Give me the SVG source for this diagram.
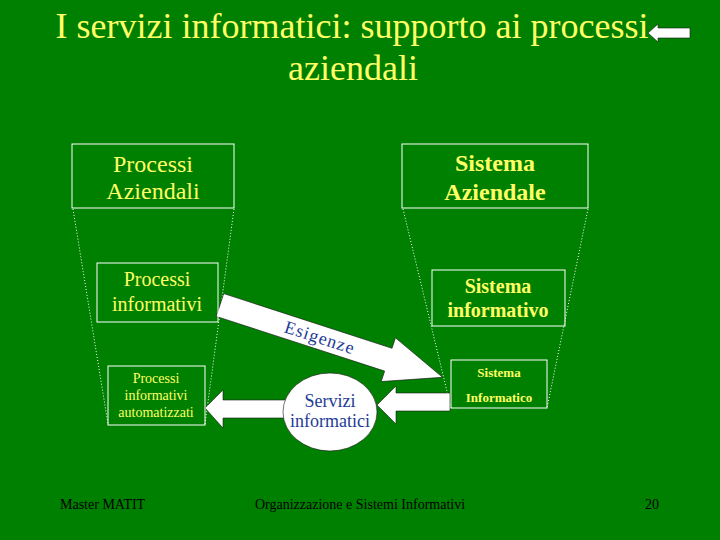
<svg xmlns="http://www.w3.org/2000/svg" width="720" height="540" viewBox="0 0 720 540">
<style>
.bg{fill:#008000}
.title{font-family:"Liberation Serif",serif;font-size:36px;fill:#ffff66;text-anchor:middle}
.box{fill:none;stroke:#ffffff;stroke-width:1}
.t{font-family:"Liberation Serif",serif;fill:#ffff66;text-anchor:middle}
.b{font-weight:bold}
.dot{stroke:#ffffff;stroke-width:1;stroke-dasharray:1 2;fill:none}
.arrow{fill:#ffffff;stroke:#1a1a1a;stroke-width:0.6}
.blue{font-family:"Liberation Serif",serif;fill:#1f3c96;text-anchor:middle}
.foot{font-family:"Liberation Serif",serif;font-size:14px;fill:#000000}
</style>
<rect class="bg" x="0" y="0" width="720" height="540"/>
<g id="title">
<text class="title" x="352" y="38">I servizi informatici: supporto ai processi</text>
<text class="title" x="353" y="80">aziendali</text>
</g>
<g id="back-arrow">
<polygon class="arrow" points="648,33 658,24 658,28 690,28 690,38 658,38 658,42"/>
</g>
<g id="connectors">
<line class="dot" x1="73" y1="209" x2="108" y2="424"/>
<line class="dot" x1="234" y1="209" x2="205" y2="424"/>
<line class="dot" x1="403" y1="209" x2="451" y2="408"/>
<line class="dot" x1="588" y1="209" x2="547" y2="408"/>
<g transform="translate(220,305) rotate(18)">
<polygon class="arrow" points="0,-12 177,-12 177,-23 234,0 177,23 177,12 0,12"/>
<text class="blue" x="105" y="6" font-size="18" letter-spacing="1">Esigenze</text>
</g>
<polygon class="arrow" points="205,408 223,390 223,400 290,400 290,418 223,418 223,428"/>
<polygon class="arrow" points="377,405 396,386 396,393 450,393 450,411 396,411 396,424"/>
</g>
<g id="processi-aziendali">
<rect class="box" x="72" y="144" width="162" height="64"/>
<text class="t" x="153" y="172" font-size="24">Processi</text>
<text class="t" x="153" y="199" font-size="24">Aziendali</text>
</g>
<g id="sistema-aziendale">
<rect class="box" x="402" y="144" width="186" height="64"/>
<text class="t b" x="495" y="171" font-size="24">Sistema</text>
<text class="t b" x="495" y="200" font-size="24">Aziendale</text>
</g>
<g id="processi-informativi">
<rect class="box" x="97" y="263" width="121" height="59"/>
<text class="t" x="157" y="286" font-size="20">Processi</text>
<text class="t" x="157" y="311" font-size="20">informativi</text>
</g>
<g id="sistema-informativo">
<rect class="box" x="432" y="270" width="133" height="56"/>
<text class="t b" x="498" y="293" font-size="20">Sistema</text>
<text class="t b" x="498" y="317" font-size="20">informativo</text>
</g>
<g id="processi-automatizzati">
<rect class="box" x="108" y="366" width="97" height="59"/>
<text class="t" x="156" y="383" font-size="14">Processi</text>
<text class="t" x="156" y="400" font-size="14">informativi</text>
<text class="t" x="156" y="417" font-size="14">automatizzati</text>
</g>
<g id="sistema-informatico">
<rect class="box" x="451" y="360" width="96" height="48"/>
<text class="t b" x="499" y="377" font-size="13">Sistema</text>
<text class="t b" x="499" y="402" font-size="13">Informatico</text>
</g>
<g id="servizi-informatici">
<ellipse cx="330" cy="412" rx="47" ry="39" fill="#ffffff" stroke="#1a1a1a" stroke-width="0.6"/>
<text class="blue" x="330" y="407" font-size="18">Servizi</text>
<text class="blue" x="330" y="427" font-size="18">informatici</text>
</g>
<g id="footer">
<text class="foot" x="60" y="509">Master MATIT</text>
<text class="foot" x="255" y="509">Organizzazione e Sistemi Informativi</text>
<text class="foot" x="645" y="509">20</text>
</g>
</svg>
